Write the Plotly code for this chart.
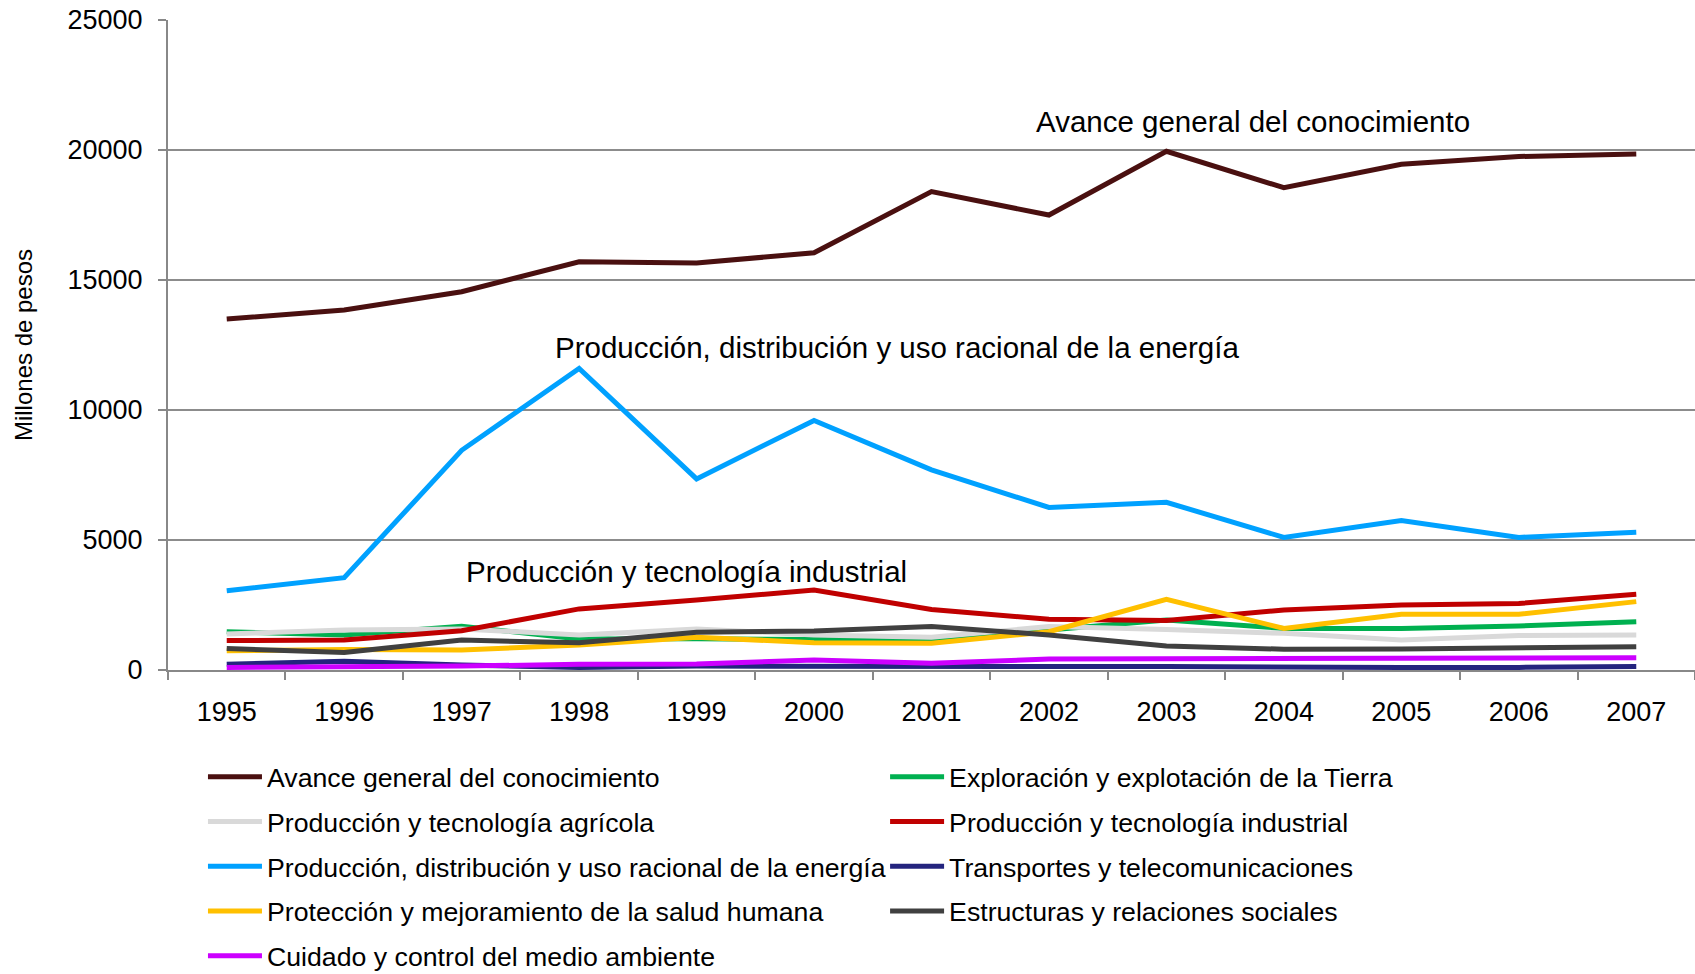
import plotly.graph_objects as go

years = ["1995", "1996", "1997", "1998", "1999", "2000", "2001",
         "2002", "2003", "2004", "2005", "2006", "2007"]

avance = [13500, 13850, 14550, 15700, 15650, 16050, 18400, 17500, 19950, 18550, 19450, 19750, 19850]
exploracion = [1470, 1350, 1680, 1190, 1200, 1190, 1150, 1540, 1920, 1600, 1600, 1690, 1860]
agricola = [1385, 1540, 1580, 1350, 1580, 1350, 1260, 1670, 1560, 1410, 1150, 1330, 1350]
industrial = [1130, 1150, 1510, 2350, 2690, 3080, 2330, 1950, 1900, 2310, 2500, 2560, 2910]
energia = [3050, 3550, 8450, 11600, 7350, 9600, 7700, 6250, 6450, 5100, 5750, 5100, 5300]
transportes = [220, 340, 190, 100, 150, 130, 130, 130, 130, 100, 100, 100, 130]
salud = [740, 790, 770, 960, 1260, 1050, 1030, 1470, 2720, 1600, 2140, 2140, 2630]
estructuras = [830, 670, 1150, 1050, 1450, 1500, 1670, 1350, 920, 800, 810, 830, 890]
medio = [100, 115, 150, 220, 230, 385, 260, 420, 420, 420, 450, 460, 470]

series = [
    ("Avance general del conocimiento", avance, "#4A1010", "legend"),
    ("Exploración y explotación de la Tierra", exploracion, "#00B050", "legend2"),
    ("Producción y tecnología agrícola", agricola, "#D9D9D9", "legend"),
    ("Producción y tecnología industrial", industrial, "#C00000", "legend2"),
    ("Producción, distribución y uso racional de la energía", energia, "#00A1FF", "legend"),
    ("Transportes y telecomunicaciones", transportes, "#24247E", "legend2"),
    ("Protección y mejoramiento de la salud humana", salud, "#FFC000", "legend"),
    ("Estructuras y relaciones sociales", estructuras, "#404040", "legend2"),
    ("Cuidado y control del medio ambiente", medio, "#CC00FF", "legend"),
]

FONT = "Liberation Sans, Arial, sans-serif"

fig = go.Figure()
for name, vals, color, leg in series:
    fig.add_trace(go.Scatter(
        x=years, y=vals, name=name, mode="lines",
        line=dict(color=color, width=5),
        legend=leg, legendgroup=name,
    ))

annotations = [
    ("Avance general del conocimiento", 8.74, 21100),
    ("Producción, distribución y uso racional de la energía", 5.71, 12420),
    ("Producción y tecnología industrial", 3.91, 3770),
]
for text, xi, yv in annotations:
    fig.add_annotation(x=xi, y=yv, xref="x", yref="y", text=text, showarrow=False,
                       xanchor="center", yanchor="middle",
                       font=dict(family=FONT, size=29.5, color="black"))

legend_common = dict(
    orientation="v", xanchor="left", yanchor="top",
    font=dict(family=FONT, size=26.7, color="black"),
    bgcolor="rgba(0,0,0,0)", traceorder="grouped", tracegroupgap=7,
    itemwidth=54,
)

fig.update_layout(
    width=1695, height=974,
    margin=dict(l=168, r=0, t=20, b=304, autoexpand=False),
    paper_bgcolor="white", plot_bgcolor="white",
    font=dict(family=FONT, color="black"),
    legend=dict(x=0.0229, y=-0.1277, **legend_common),
    legend2=dict(x=0.4696, y=-0.1277, **legend_common),
    showlegend=True,
)

fig.update_xaxes(
    type="category", range=[-0.5, 12.5],
    showline=True, linecolor="#888888", linewidth=2,
    showgrid=False, ticks="outside", tickson="boundaries",
    ticklen=8, tickcolor="#888888", tickwidth=2,
    ticklabelstandoff=17,
    tickfont=dict(family=FONT, size=27, color="black"),
)
fig.update_yaxes(
    range=[0, 25000], dtick=5000, tickformat="d",
    showline=True, linecolor="#888888", linewidth=2,
    showgrid=True, gridcolor="#8C8C8C", gridwidth=1.5,
    ticks="outside", ticklen=8, tickcolor="#888888", tickwidth=2,
    ticklabelstandoff=10, ticklabeloverflow="allow",
    tickfont=dict(family=FONT, size=27, color="black"),
    zeroline=False,
    title=dict(text="Millones de pesos", font=dict(family=FONT, size=24, color="black"), standoff=28),
)

fig.write_html("out.html", config={"displayModeBar": False},
               post_script="document.body.style.margin='0';")
